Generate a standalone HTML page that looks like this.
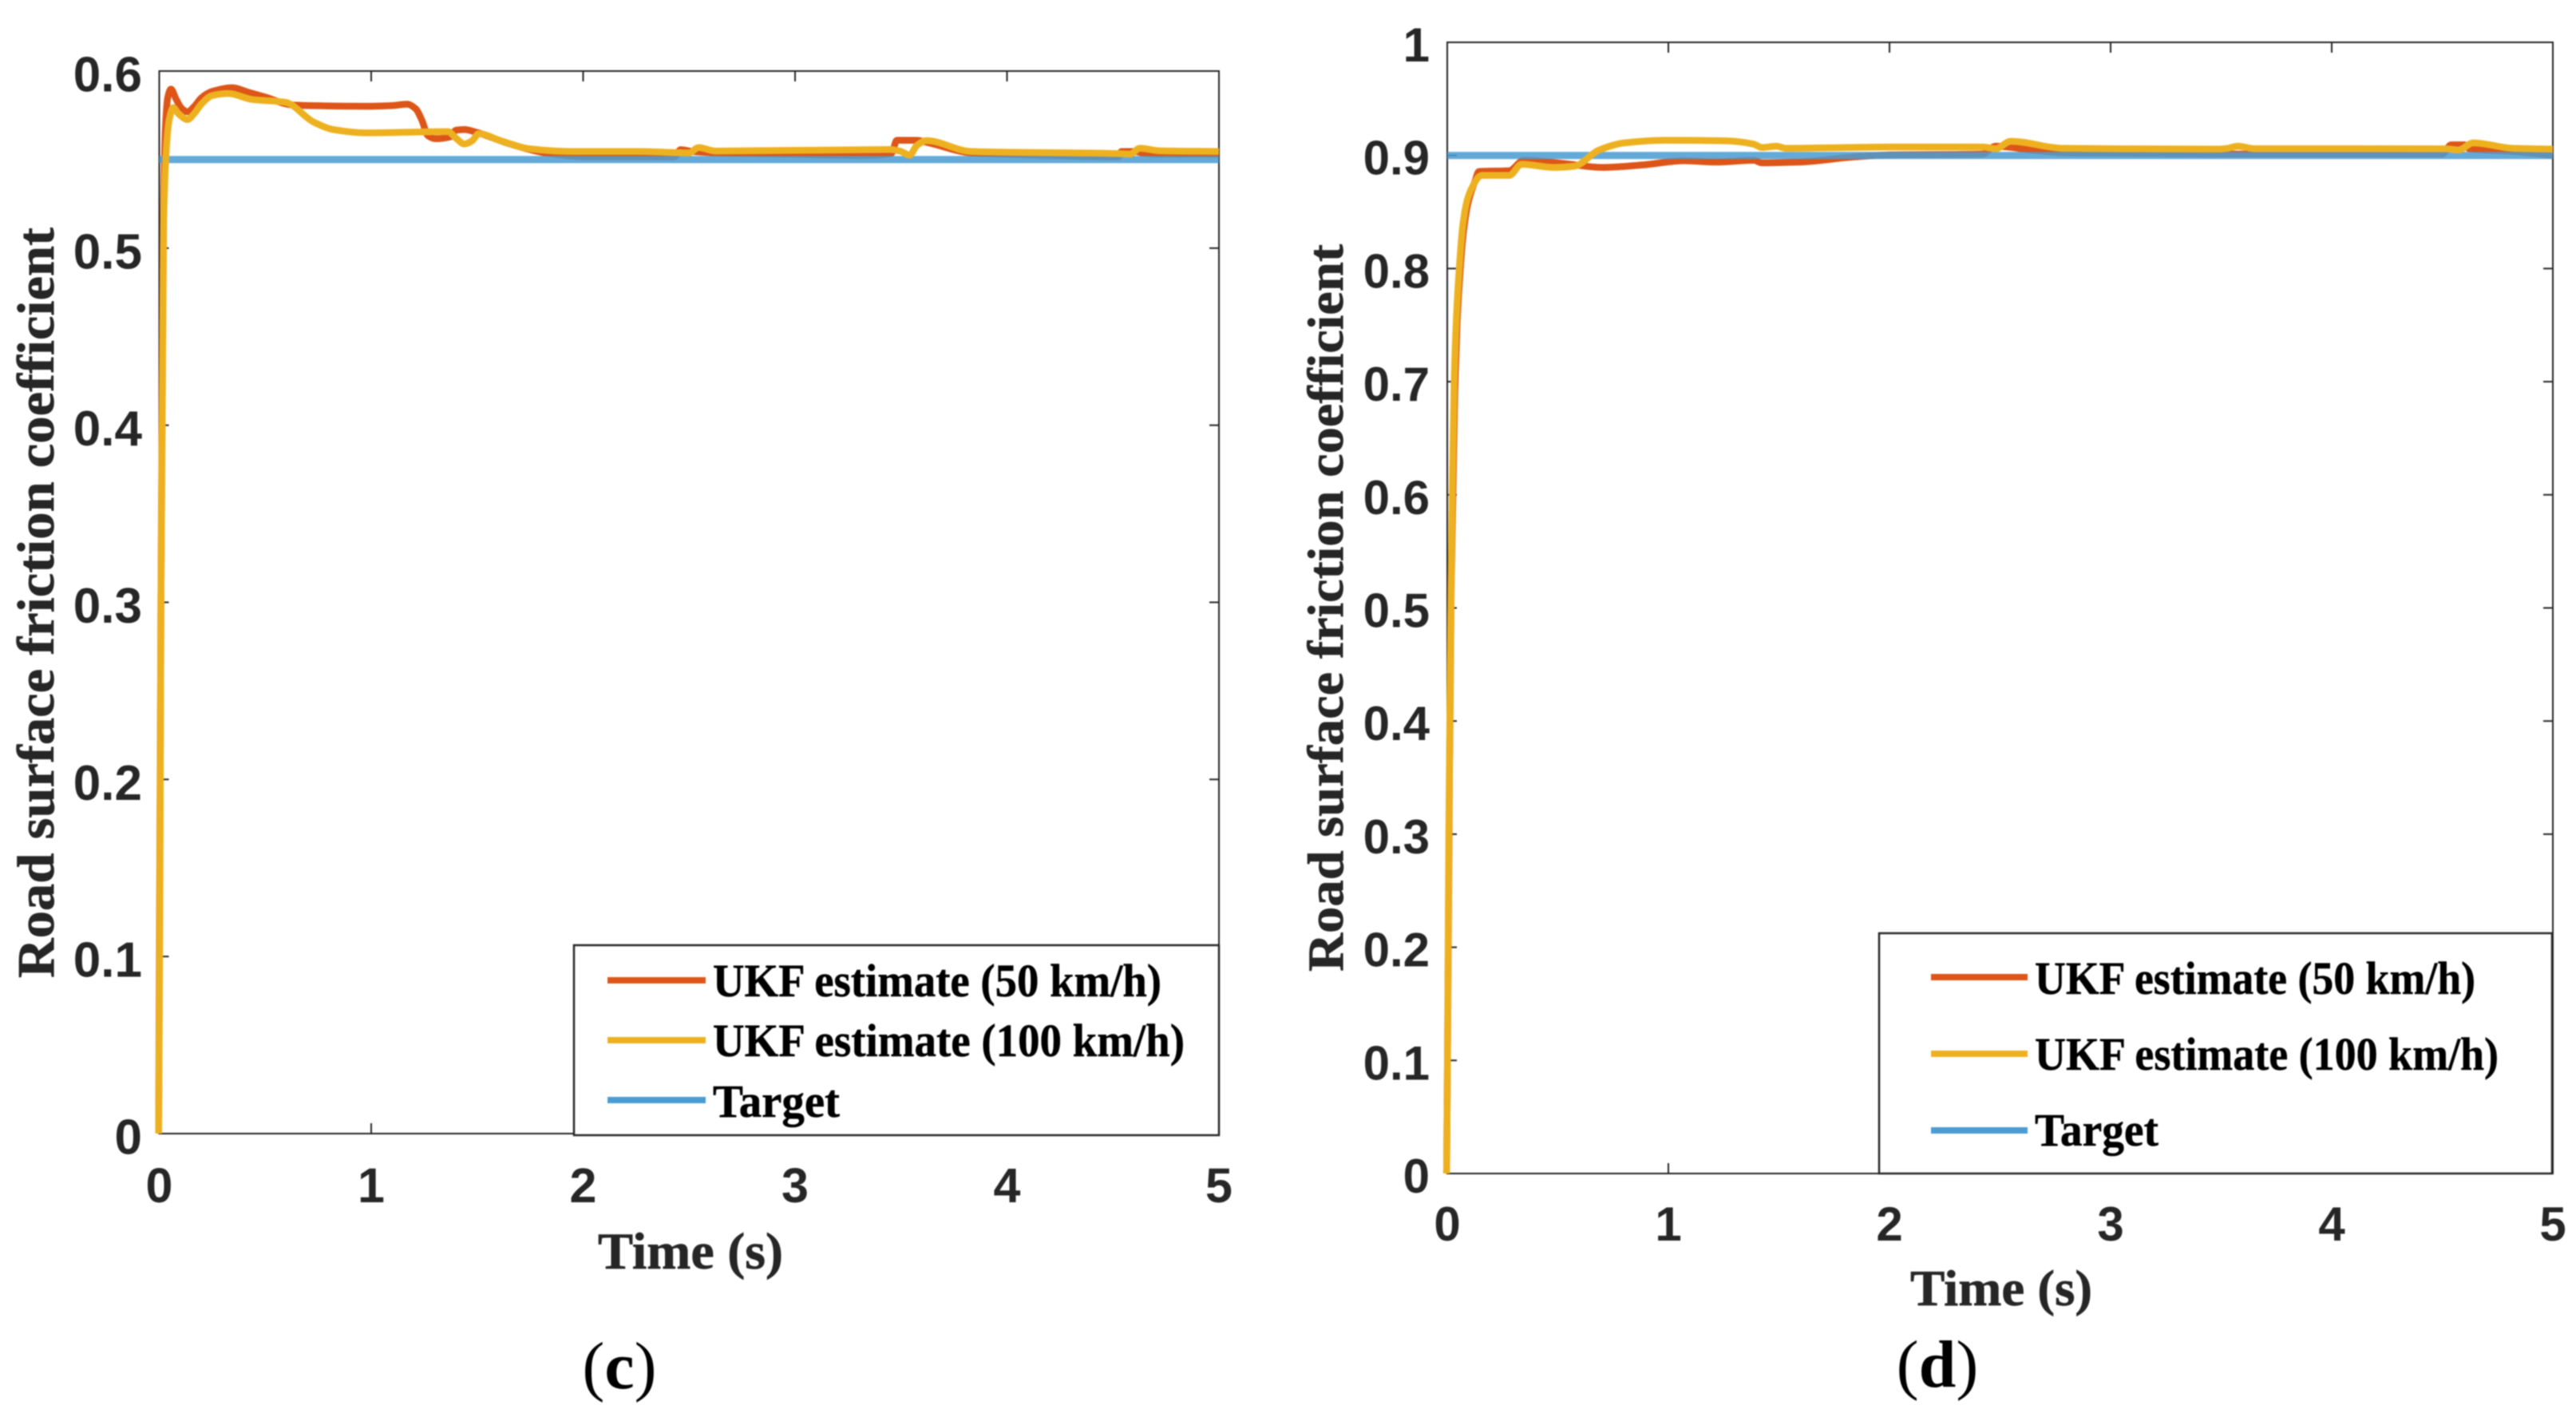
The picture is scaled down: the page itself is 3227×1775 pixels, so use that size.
<!DOCTYPE html>
<html lang="en">
<head>
<meta charset="utf-8">
<title>Road surface friction coefficient estimates</title>
<style>
html,body{margin:0;padding:0;background:#fff;width:3227px;height:1775px;overflow:hidden}
svg{display:block;filter:blur(0.7px)}
.tick{font-family:"Liberation Sans",Arial,sans-serif;font-weight:700;fill:#262626}
.title{font-family:"Liberation Serif","Times New Roman",serif;font-weight:700;fill:#262626;stroke:#262626;stroke-width:.7px}
.leg{font-family:"Liberation Serif","Times New Roman",serif;font-weight:700;fill:#000;font-size:58px;stroke:#000;stroke-width:.5px}
.cap{font-family:"Liberation Serif","Times New Roman",serif;fill:#000;font-size:84px;text-anchor:middle}
</style>
</head>
<body>
<svg id="figure" xmlns="http://www.w3.org/2000/svg" width="3227" height="1775" viewBox="0 0 3227 1775">
  <rect x="0" y="0" width="3227" height="1775" fill="#fff"/>
  <g id="chart-c"></g>
  <g id="chart-d"></g>

  <text class="title" transform="translate(67,1225) rotate(-90)" font-size="66" textLength="940" lengthAdjust="spacingAndGlyphs">Road surface friction coefficient</text>
  <text class="title" x="749" y="1589" font-size="65" textLength="232" lengthAdjust="spacingAndGlyphs">Time (s)</text>
  <text class="cap" x="776" y="1739">(<tspan font-weight="700">c</tspan>)</text>

  <g>
    <rect x="719" y="1184" width="808" height="238" fill="#fff" stroke="#262626" stroke-width="2.5"/>
    <line x1="761" y1="1228" x2="884" y2="1228" stroke="#DD5518" stroke-width="8"/>
    <text class="leg" x="893" y="1248" textLength="562" lengthAdjust="spacingAndGlyphs">UKF estimate (50 km/h)</text>
    <line x1="761" y1="1303" x2="884" y2="1303" stroke="#EDB120" stroke-width="8"/>
    <text class="leg" x="893" y="1323" textLength="591" lengthAdjust="spacingAndGlyphs">UKF estimate (100 km/h)</text>
    <line x1="761" y1="1378" x2="884" y2="1378" stroke="#4B9CD3" stroke-width="8"/>
    <text class="leg" x="893" y="1399" textLength="159" lengthAdjust="spacingAndGlyphs">Target</text>
  </g>

  <text class="title" transform="translate(1682,1217) rotate(-90)" font-size="64" textLength="911" lengthAdjust="spacingAndGlyphs">Road surface friction coefficient</text>
  <text class="title" x="2393" y="1635" font-size="63" textLength="228" lengthAdjust="spacingAndGlyphs">Time (s)</text>
  <text class="cap" x="2427" y="1737">(<tspan font-weight="700">d</tspan>)</text>

  <g>
    <rect x="2354" y="1169" width="843" height="301" fill="#fff" stroke="#262626" stroke-width="2.5"/>
    <line x1="2419" y1="1224" x2="2540" y2="1224" stroke="#DD5518" stroke-width="8"/>
    <text class="leg" x="2549" y="1245" textLength="552" lengthAdjust="spacingAndGlyphs">UKF estimate (50 km/h)</text>
    <line x1="2419" y1="1320" x2="2540" y2="1320" stroke="#EDB120" stroke-width="8"/>
    <text class="leg" x="2549" y="1340" textLength="581" lengthAdjust="spacingAndGlyphs">UKF estimate (100 km/h)</text>
    <line x1="2419" y1="1416" x2="2540" y2="1416" stroke="#4B9CD3" stroke-width="8"/>
    <text class="leg" x="2549" y="1435" textLength="155" lengthAdjust="spacingAndGlyphs">Target</text>
  </g>
</svg>
<script>
const xTickLabels = ['0', '1', '2', '3', '4', '5'];
const xTickValues = [0, 1, 2, 3, 4, 5];

const cYTickLabels = ['0', '0.1', '0.2', '0.3', '0.4', '0.5', '0.6'];
const cYTickValues = [0, 0.1, 0.2, 0.3, 0.4, 0.5, 0.6];
const cTargetTimes = [0, 5];
const cTargetValues = [0.55, 0.55];
const cTimes50 = [-.003,.008,.02,.03,.04,.055,.08,.105,.133,.165,.2,.25,.345,.42,.5,.632,.8,.978,1.1,1.17,1.21,1.24,1.267,1.305,1.372,1.4,1.44,1.497,1.65,1.82,2.03,2.43,2.46,2.52,2.7,3,3.32,3.455,3.48,3.575,3.63,3.83,4,4.525,4.54,4.6,4.65,4.72,5];
const cValues50 = [0,.3,.52,.57,.585,.5898,.584,.579,.577,.58,.585,.5885,.5906,.588,.5853,.5808,.5803,.5801,.5805,.5813,.5787,.572,.5636,.5618,.5628,.5666,.567,.5654,.559,.5538,.5515,.5515,.5556,.5545,.5535,.553,.5523,.5535,.5609,.5609,.5595,.5538,.553,.5515,.5546,.5546,.5535,.553,.553];
const cTimes100 = [-.003,.002,.008,.021,.037,.047,.066,.09,.133,.165,.2,.248,.326,.44,.594,.73,.824,.978,1.362,1.40,1.44,1.477,1.507,1.61,1.747,1.94,2.26,2.5,2.545,2.626,3.447,3.50,3.54,3.575,3.62,3.83,4.525,4.58,4.627,4.72,5];
const cValues100 = [0,.1,.3,.517,.562,.5726,.5793,.576,.5726,.576,.5815,.5861,.5873,.5839,.5824,.5711,.5669,.5651,.5658,.5621,.5588,.5607,.5646,.5607,.5561,.5546,.5546,.5538,.5568,.5548,.5557,.5546,.5525,.558,.5607,.5546,.5534,.5531,.5564,.555,.5546];

const dYTickLabels = ['0', '0.1', '0.2', '0.3', '0.4', '0.5', '0.6', '0.7', '0.8', '0.9', '1'];
const dYTickValues = [0, 0.1, 0.2, 0.3, 0.4, 0.5, 0.6, 0.7, 0.8, 0.9, 1];
const dTargetTimes = [0, 5];
const dTargetValues = [0.9, 0.9];
const dTimes50 = [-.003,.003,.01,.018,.034,.044,.058,.073,.094,.125,.143,.281,.346,.523,.704,.888,1.072,1.22,1.386,1.423,1.588,1.846,2,2.42,2.48,2.53,2.65,2.8,3.5,4.5,4.54,4.6,4.62,4.82,5];
const dValues50 = [0,.15,.35,.52,.69,.75,.797,.832,.858,.877,.8858,.8865,.8957,.8929,.8894,.8917,.8953,.8941,.8957,.8934,.8941,.8988,.9005,.9012,.9082,.9075,.9045,.9022,.9012,.9012,.9094,.9094,.906,.9035,.9];
const dTimes100 = [-.003,.001,.007,.014,.019,.023,.031,.041,.055,.07,.091,.122,.143,.158,.281,.336,.484,.575,.686,.797,.981,1.257,1.386,1.423,1.487,1.533,1.81,2,2.423,2.48,2.548,2.785,3.49,3.53,3.575,3.65,4.516,4.573,4.64,4.82,5];
const dValues100 = [0,.1,.3,.45,.5435,.6023,.6965,.755,.8023,.8376,.8611,.8753,.8811,.8823,.8823,.8922,.8894,.8905,.9047,.911,.9134,.9129,.91,.907,.9082,.9063,.907,.9075,.9075,.9059,.9125,.9063,.9056,.9063,.9082,.906,.9059,.9048,.9111,.9063,.9056];

const NS = 'http://www.w3.org/2000/svg';

function mk(tag, attrs, parent) {
  const n = document.createElementNS(NS, tag);
  for (const k in attrs) n.setAttribute(k, attrs[k]);
  parent.appendChild(n);
  return n;
}

/* Monotone cubic path so the curves stay smooth without overshooting. */
function curvePath(xs, ys) {
  const n = xs.length;
  const d = [], m = new Array(n).fill(0);
  for (let i = 0; i < n - 1; i++) d.push((ys[i + 1] - ys[i]) / Math.max(xs[i + 1] - xs[i], 1e-6));
  m[0] = d[0];
  m[n - 1] = d[n - 2];
  for (let i = 1; i < n - 1; i++) {
    if (d[i - 1] * d[i] <= 0) { m[i] = 0; continue; }
    const h0 = xs[i] - xs[i - 1], h1 = xs[i + 1] - xs[i];
    const w1 = 2 * h1 + h0, w2 = h1 + 2 * h0;
    m[i] = (w1 + w2) / (w1 / d[i - 1] + w2 / d[i]);
  }
  let p = 'M' + xs[0].toFixed(2) + ' ' + ys[0].toFixed(2);
  for (let i = 0; i < n - 1; i++) {
    const h = (xs[i + 1] - xs[i]) / 3;
    p += 'C' + (xs[i] + h).toFixed(2) + ' ' + (ys[i] + m[i] * h).toFixed(2) + ' ' +
         (xs[i + 1] - h).toFixed(2) + ' ' + (ys[i + 1] - m[i + 1] * h).toFixed(2) + ' ' +
         xs[i + 1].toFixed(2) + ' ' + ys[i + 1].toFixed(2);
  }
  return p;
}

function drawChart(g, o) {
  const sx = t => o.left + (t - 0) / 5 * (o.right - o.left);
  const sy = v => o.bottom - (v - 0) / o.yMax * (o.bottom - o.top);

  const frame = mk('rect', { x: o.left, y: o.top, width: o.right - o.left, height: o.bottom - o.top, fill: 'none', stroke: '#262626', 'stroke-width': 2 }, g);
  
  

  xTickValues.forEach((t, i) => {
    const x = sx(t);
    if (t > 0 && t < 5) {
      const a = mk('line', { x1: x, x2: x, y1: o.top, y2: o.top + 13, stroke: '#262626', 'stroke-width': 2 }, g);
      
      
      const b = mk('line', { x1: x, x2: x, y1: o.bottom, y2: o.bottom - 13, stroke: '#262626', 'stroke-width': 2 }, g);
      
      
    }
    const lab = mk('text', { class: 'tick', x: x, y: o.xLabelY, 'font-size': o.fontX, 'text-anchor': 'middle' }, g);
    lab.textContent = xTickLabels[i];
    
    
  });

  o.yVals.forEach((v, i) => {
    const y = sy(v);
    if (v > 0 && v < o.yMax) {
      const a = mk('line', { x1: o.left, x2: o.left + 12, y1: y, y2: y, stroke: '#262626', 'stroke-width': 2 }, g);
      
      
      const b = mk('line', { x1: o.right, x2: o.right - 12, y1: y, y2: y, stroke: '#262626', 'stroke-width': 2 }, g);
      
      
    }
    const lab = mk('text', { class: 'tick', x: o.yLabelX, y: y + o.yLabelDy, 'font-size': o.fontY, 'text-anchor': 'end' }, g);
    lab.textContent = o.yLabels[i];
    
    
  });

  const red = mk('path', { d: curvePath(o.t50.map(sx), o.v50.map(sy)), fill: 'none', stroke: '#DD5518', 'stroke-width': 8.5, 'stroke-linejoin': 'round' }, g);
  
  

  const blue = mk('path', { d: curvePath(o.tT.map(sx), o.vT.map(sy)), fill: 'none', stroke: '#4B9CD3', 'stroke-width': 9, 'stroke-opacity': 0.86 }, g);
  
  

  const yellow = mk('path', { d: curvePath(o.t100.map(sx), o.v100.map(sy)), fill: 'none', stroke: '#EDB120', 'stroke-width': 8.5, 'stroke-linejoin': 'round' }, g);
  
  
}

drawChart(document.getElementById('chart-c'), {
  left: 199.5, right: 1527, top: 89, bottom: 1420, yMax: 0.6,
  xLabelY: 1506, yLabelX: 178, yLabelDy: 25.5, fontX: 61, fontY: 62,
  t50: cTimes50, v50: cValues50, t100: cTimes100, v100: cValues100,
  tT: cTargetTimes, vT: cTargetValues, yVals: cYTickValues, yLabels: cYTickLabels
});

drawChart(document.getElementById('chart-d'), {
  left: 1813, right: 3198, top: 53, bottom: 1470, yMax: 1,
  xLabelY: 1554, yLabelX: 1791, yLabelDy: 24, fontX: 60, fontY: 60,
  t50: dTimes50, v50: dValues50, t100: dTimes100, v100: dValues100,
  tT: dTargetTimes, vT: dTargetValues, yVals: dYTickValues, yLabels: dYTickLabels
});
</script>
</body>
</html>
